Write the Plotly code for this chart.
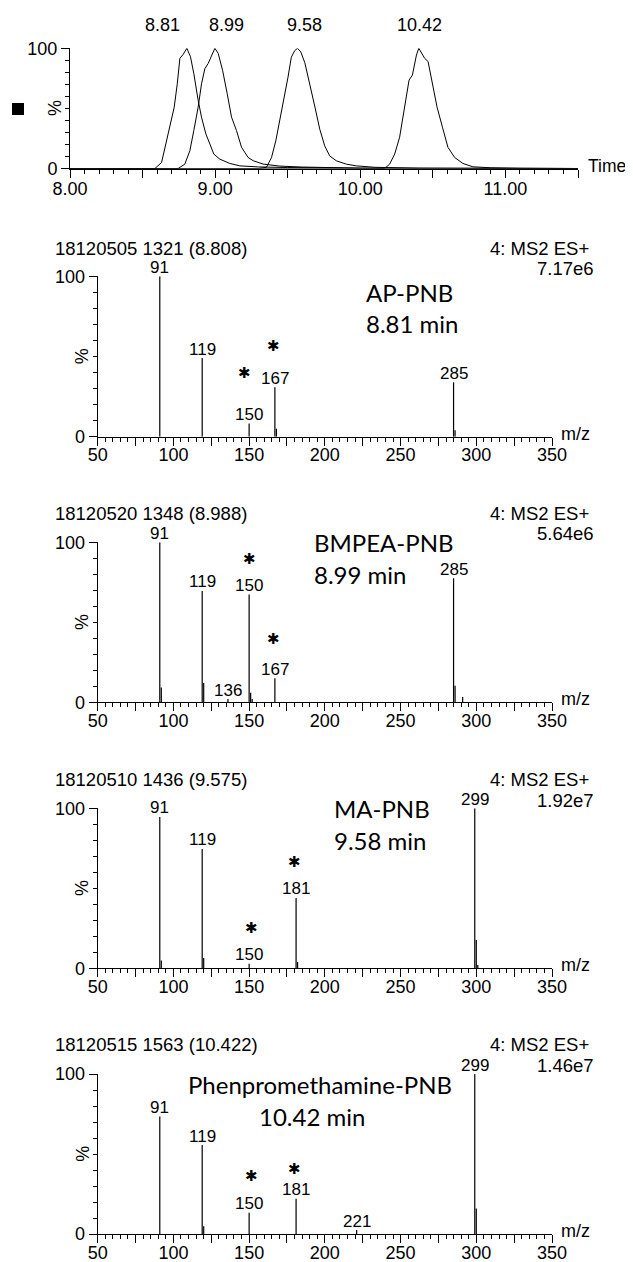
import plotly.graph_objects as go

W, H = 633, 1262
PAGE_OFFSET = 8  # default page margin around the plot div
FONT = "Liberation Sans, Arial, sans-serif"
NAME_FONT = "Lato, Calibri, sans-serif"

# ---------------- chromatogram data (time in min, relative %) ----------------
rt_labels = ["8.81", "8.99", "9.58", "10.42"]
rt_values = [8.81, 8.99, 9.58, 10.42]

ap_t = [8.00, 8.40, 8.585, 8.631, 8.654, 8.688, 8.718, 8.739, 8.757, 8.780, 8.805, 8.830, 8.853,
        8.883, 8.906, 8.936, 8.963, 8.991, 9.032, 9.101, 9.170, 9.300, 9.500, 9.800, 10.20, 11.50]
ap_i = [0, 0, 0, 5.0, 17.6, 37.0, 51.0, 70.4, 91.6, 95.0, 100, 93.0, 79.0,
        56.7, 42.7, 28.8, 20.4, 12.0, 7.8, 4.2, 2.2, 1.3, 0.8, 0.4, 0.1, 0]

bmpea_t = [8.00, 8.60, 8.745, 8.791, 8.826, 8.853, 8.883, 8.906, 8.929, 8.952, 8.975, 8.998, 9.021,
           9.051, 9.083, 9.113, 9.147, 9.182, 9.227, 9.262, 9.330, 9.445, 9.600, 9.800, 10.00, 10.50, 11.50]
bmpea_i = [0, 0, 0, 3.6, 14.8, 31.6, 51.0, 70.4, 83.0, 87.4, 94.4, 100, 95.8,
           81.8, 62.3, 42.7, 31.6, 17.6, 9.2, 6.5, 3.7, 2.0, 1.2, 0.6, 0.3, 0.1, 0]

ma_t = [8.00, 9.30, 9.353, 9.388, 9.418, 9.445, 9.473, 9.502, 9.525, 9.548, 9.567, 9.590, 9.618,
        9.652, 9.686, 9.721, 9.755, 9.789, 9.835, 9.904, 9.973, 10.10, 10.40, 11.50]
ma_i = [0, 0, 1.0, 9.0, 23.0, 40.0, 56.5, 76.0, 92.6, 98.0, 100, 97.0, 88.0,
        71.0, 52.0, 32.6, 18.8, 10.5, 6.4, 3.6, 2.2, 1.0, 0.3, 0]

phen_t = [8.00, 10.10, 10.168, 10.202, 10.237, 10.271, 10.299, 10.322, 10.336, 10.359, 10.375, 10.387,
          10.403, 10.421, 10.444, 10.467, 10.497, 10.529, 10.566, 10.604, 10.650, 10.707, 10.776,
          10.90, 11.10, 11.50]
phen_i = [0, 0, 0, 3.6, 12.0, 26.0, 45.5, 65.0, 73.5, 77.7, 87.4, 94.4,
          100, 95.8, 91.6, 89.0, 70.4, 51.0, 34.4, 17.6, 9.2, 4.2, 1.4,
          0.6, 0.2, 0]

# ---------------- MS2 spectra data (m/z, relative %) ----------------
s1_mz = [91, 119, 150, 167, 168, 285, 286]
s1_int = [100, 49.0, 8.3, 30.8, 5.0, 33.9, 4.0]
s1_lab = [91, 119, 150, 167, 285]
s1_ast_mz = [147.2, 165.9]
s1_ast_pct = [40.0, 56.3]

s2_mz = [91, 92, 119, 120, 136, 150, 151, 152, 167, 285, 286, 291]
s2_int = [100, 9.2, 69.6, 12.0, 2.0, 67.3, 6.0, 2.0, 15.0, 77.5, 10.4, 3.3]
s2_lab = [91, 119, 136, 150, 167, 285]
s2_ast_mz = [150.5, 165.9]
s2_ast_pct = [89.4, 39.4]

s3_mz = [91, 92, 119, 120, 150, 181, 182, 299, 300, 301]
s3_int = [94.6, 4.8, 74.6, 6.5, 2.9, 44.0, 4.0, 100, 17.7, 2.0]
s3_lab = [91, 119, 150, 181, 299]
s3_ast_mz = [179.8, 151.8]
s3_ast_pct = [66.6, 25.0]

s4_mz = [91, 119, 120, 150, 181, 221, 299, 300]
s4_int = [73.5, 55.6, 4.8, 13.3, 22.0, 2.5, 100, 16.0]
s4_lab = [91, 119, 150, 181, 221, 299]
s4_ast_mz = [151.3, 179.8]
s4_ast_pct = [36.3, 40.4]

spec_headers = ["18120505 1321 (8.808)", "18120520 1348 (8.988)",
                "18120510 1436 (9.575)", "18120515 1563 (10.422)"]
spec_scan = ["4: MS2 ES+"] * 4
spec_scale = ["7.17e6", "5.64e6", "1.92e7", "1.46e7"]
compound_names = ["AP-PNB", "BMPEA-PNB", "MA-PNB", "Phenpromethamine-PNB"]
compound_rts = ["8.81 min", "8.99 min", "9.58 min", "10.42 min"]

x_tick_mz = [50, 100, 150, 200, 250, 300, 350]
time_ticks = [8.0, 9.0, 10.0, 11.0]

# ---------------- layout geometry (screen pixels) ----------------
def px(x):
    return (x - PAGE_OFFSET) / W

def py(y):
    return 1 - (y - PAGE_OFFSET) / H

chrom_xpx = (70, 578)
chrom_ypx = (168.5, 48.3)
spec_xpx = (97.7, 552)
spec_ypx = [(436.7, 276.3), (702.3, 542.3), (968.3, 808.3), (1234.0, 1074.0)]
hdr_y = [248.3, 513.3, 779.3, 1044.0]
scale_y = [268.3, 534.0, 800.0, 1065.0]
name_pos = [(365, 292.5, "left"), (312.5, 542, "left"), (333, 809, "left"), (320, 1084, "center")]
rt_pos = [(365, 323.5, "left"), (312.5, 574, "left"), (333, 840, "left"), (311.5, 1116, "center")]
rt_label_shift = [-25, 13, 5, -2]

spectra = [
    (s1_mz, s1_int, s1_lab, s1_ast_mz, s1_ast_pct),
    (s2_mz, s2_int, s2_lab, s2_ast_mz, s2_ast_pct),
    (s3_mz, s3_int, s3_lab, s3_ast_mz, s3_ast_pct),
    (s4_mz, s4_int, s4_lab, s4_ast_mz, s4_ast_pct),
]

fig = go.Figure()

# chromatogram traces
for t, i in [(ap_t, ap_i), (bmpea_t, bmpea_i), (ma_t, ma_i), (phen_t, phen_i)]:
    fig.add_trace(go.Scatter(x=t, y=i, mode="lines", line=dict(color="black", width=1),
                             xaxis="x", yaxis="y", hoverinfo="skip", showlegend=False))

# spectra stems
for k, (mz, inten, lab, amz, apct) in enumerate(spectra):
    xs, ys = [], []
    for m, h in zip(mz, inten):
        xs += [m, m, None]
        ys += [0, h, None]
    ax = str(k + 2)
    fig.add_trace(go.Scatter(x=xs, y=ys, mode="lines", line=dict(color="black", width=1.2),
                             xaxis="x" + ax, yaxis="y" + ax, hoverinfo="skip", showlegend=False))

axis_common = dict(showline=True, linecolor="black", linewidth=1, ticks="outside",
                   tickcolor="black", tickwidth=1, showgrid=False, zeroline=False, automargin=False,
                   tickfont=dict(family=FONT, size=18, color="black"), fixedrange=True)

layout = dict(width=W, height=H, margin=dict(l=0, r=0, t=0, b=0, pad=0, autoexpand=False),
              paper_bgcolor="white", plot_bgcolor="white", showlegend=False)

# chromatogram axes
tv = [8.0 + 0.5 * j for j in range(8)]
layout["xaxis"] = dict(axis_common, domain=[px(chrom_xpx[0]), px(chrom_xpx[1])], range=[8.0, 11.5],
                       anchor="y", tickmode="array", tickvals=tv,
                       ticktext=[("%.2f" % v if v in time_ticks else "") for v in tv], ticklen=8,
                       ticklabelstandoff=-4,
                       minor=dict(tickmode="linear", tick0=8.0, dtick=0.1, ticklen=4, ticks="outside",
                                  tickcolor="black", showgrid=False))
layout["yaxis"] = dict(axis_common, domain=[py(chrom_ypx[0]), py(chrom_ypx[1])], range=[0, 100],
                       anchor="x", tickmode="array", tickvals=[0, 100], ticktext=["0", "100"], ticklen=8,
                       minor=dict(tickmode="linear", tick0=0, dtick=10, ticklen=4, ticks="outside",
                                  tickcolor="black", showgrid=False))

mz_tv = list(range(50, 351, 25))
for k in range(4):
    ax = str(k + 2)
    y0, y1 = spec_ypx[k]
    layout["xaxis" + ax] = dict(axis_common, domain=[px(spec_xpx[0]), px(spec_xpx[1])], range=[50, 350],
                                anchor="y" + ax, tickmode="array", tickvals=mz_tv,
                                ticktext=[(str(v) if v in x_tick_mz else "") for v in mz_tv], ticklen=8,
                                ticklabelstandoff=-6,
                                minor=dict(tickmode="linear", tick0=50, dtick=5, ticklen=4, ticks="outside",
                                           tickcolor="black", showgrid=False))
    layout["yaxis" + ax] = dict(axis_common, domain=[py(y0), py(y1)], range=[0, 100],
                                anchor="x" + ax, tickmode="array", tickvals=[0, 100], ticktext=["0", "100"],
                                ticklen=8,
                                minor=dict(tickmode="linear", tick0=0, dtick=10, ticklen=4, ticks="outside",
                                           tickcolor="black", showgrid=False))

ann = []

def txt(x, y, s, size=18, xanchor="center", family=FONT, angle=0, **kw):
    d = dict(x=px(x), y=py(y), xref="paper", yref="paper", text=s, showarrow=False,
             xanchor=xanchor, yanchor="middle", textangle=angle,
             font=dict(family=family, size=size, color="black"), borderpad=0)
    d.update(kw)
    ann.append(d)

# chromatogram labels
for lab, v, sh in zip(rt_labels, rt_values, rt_label_shift):
    ann.append(dict(x=v, y=py(25), xref="x", yref="paper", text=lab, showarrow=False,
                    xanchor="center", yanchor="middle", xshift=sh, borderpad=0,
                    font=dict(family=FONT, size=18, color="black")))
txt(587, 166, "Time", size=17.5, xanchor="left")
txt(55, 108, "%", angle=-90)

# spectra labels
for k, (mz, inten, lab, amz, apct) in enumerate(spectra):
    ax = str(k + 2)
    y0, y1 = spec_ypx[k]
    txt(54.4, hdr_y[k], spec_headers[k], size=18.5, xanchor="left")
    txt(590, hdr_y[k], spec_scan[k], size=18.5, xanchor="right")
    txt(595, scale_y[k], spec_scale[k], size=18.5, xanchor="right")
    txt(82.7, (y0 + y1) / 2, "%", angle=-90)
    txt(560, y0 - 3, "m/z", xanchor="left")
    nx, ny, na = name_pos[k]
    txt(nx, ny, compound_names[k], size=24, xanchor=na, family=NAME_FONT)
    rx, ry, ra = rt_pos[k]
    txt(rx, ry, compound_rts[k], size=24, xanchor=ra, family=NAME_FONT)
    for m, h in zip(mz, inten):
        if m in lab:
            ann.append(dict(x=m, y=h, xref="x" + ax, yref="y" + ax, text=str(m), showarrow=False,
                            xanchor="center", yanchor="middle", yshift=9, borderpad=0,
                            font=dict(family=FONT, size=17, color="black")))
    for m, p in zip(amz, apct):
        ann.append(dict(x=m, y=p, xref="x" + ax, yref="y" + ax, text="\u2731", showarrow=False,
                        xanchor="center", yanchor="middle", borderpad=0,
                        font=dict(family="DejaVu Sans", size=15, color="black")))

layout["annotations"] = ann
layout["shapes"] = [dict(type="rect", xref="paper", yref="paper", x0=px(12), x1=px(24),
                         y0=py(115), y1=py(103), fillcolor="black", line=dict(width=0))]

fig.update_layout(**layout)
fig.write_html("out.html")
